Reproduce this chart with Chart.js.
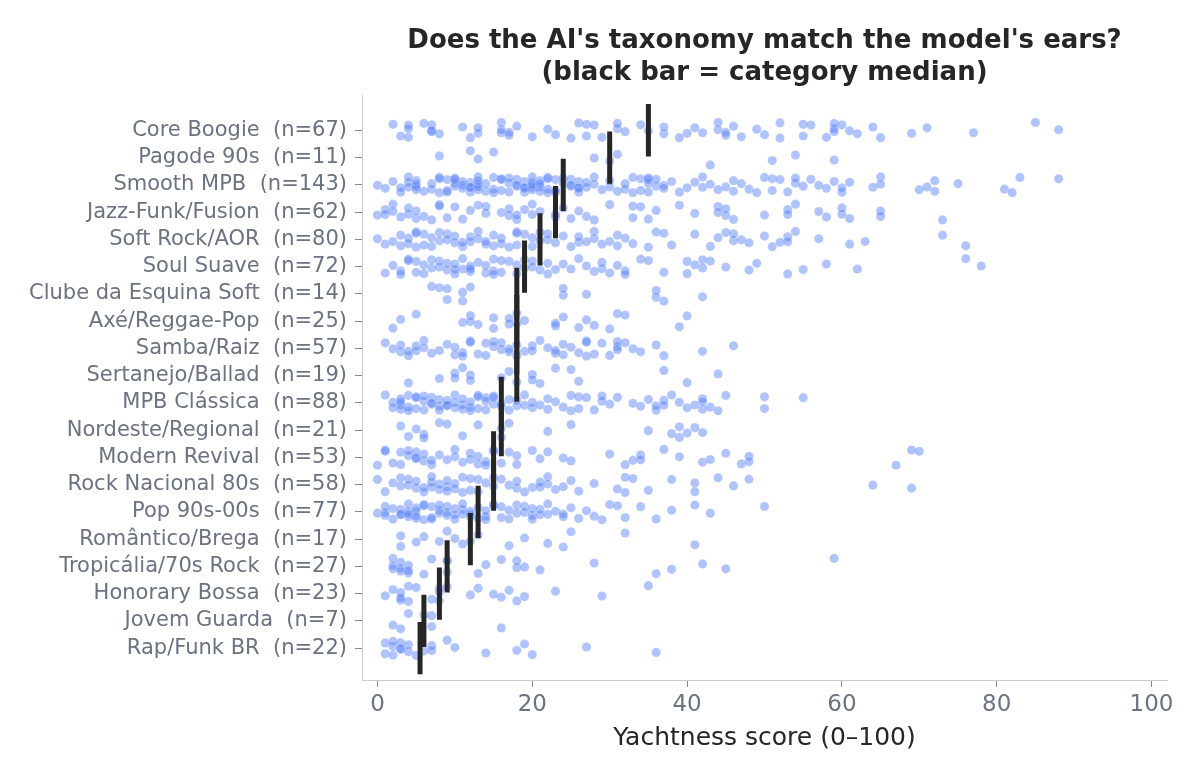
<!DOCTYPE html>
<html>
<head>
<meta charset="utf-8">
<script src="https://cdn.jsdelivr.net/npm/chart.js@4.4.1/dist/chart.umd.min.js"></script>
<style>
  html, body { margin: 0; padding: 0; background: #fff; }
  canvas { display: block; }
</style>
</head>
<body>
<canvas id="stripChart" width="1200" height="780"></canvas>
<script>
// categories, top to bottom
const categories = [
  'Core Boogie', 'Pagode 90s', 'Smooth MPB', 'Jazz-Funk/Fusion', 'Soft Rock/AOR',
  'Soul Suave', 'Clube da Esquina Soft', 'Axé/Reggae-Pop', 'Samba/Raiz', 'Sertanejo/Ballad',
  'MPB Clássica', 'Nordeste/Regional', 'Modern Revival', 'Rock Nacional 80s', 'Pop 90s-00s',
  'Romântico/Brega', 'Tropicália/70s Rock', 'Honorary Bossa', 'Jovem Guarda', 'Rap/Funk BR'
];

// scores per category (0-100)
const coreBoogie = [2,3,4,4,4,6,7,7,7,8,11,12,13,13,16,16,16,17,17,18,20,22,23,25,26,27,27,28,29,31,31,32,34,35,37,37,39,40,41,42,44,44,45,45,46,47,49,50,52,52,55,55,56,58,59,59,59,60,61,62,64,65,69,71,77,85,88];
const pagode90s = [8,12,13,15,28,30,31,43,51,54,59];
const smoothMpb = [0,1,2,3,3,4,4,4,5,5,5,5,6,7,7,8,8,8,9,9,9,10,10,10,10,11,11,11,12,12,12,12,13,13,13,13,13,14,14,15,15,15,16,16,16,17,17,17,18,18,18,19,19,19,19,20,20,20,20,20,21,21,21,21,22,22,22,22,23,23,23,
  24,24,25,25,25,26,26,26,26,27,27,28,28,29,30,30,31,32,32,33,33,34,34,35,35,35,35,36,36,37,37,38,39,40,41,42,42,43,44,45,46,46,47,48,49,50,51,51,52,53,54,54,55,56,57,58,59,60,60,61,64,65,65,70,71,72,72,75,81,82,83,88];
const jazzFunk = [0,1,1,2,2,3,4,4,5,5,6,7,8,8,9,10,11,12,13,14,14,16,17,17,18,18,19,20,20,21,23,23,24,25,26,27,28,30,33,33,34,35,36,39,41,44,44,45,45,46,50,53,53,54,57,58,60,60,61,65,65,73];
const softRock = [0,1,2,3,3,4,4,5,5,5,6,6,7,7,8,8,9,9,10,10,11,11,12,12,13,13,14,14,15,15,16,16,17,18,18,18,19,20,20,21,21,22,22,23,24,25,26,26,27,28,28,29,30,31,31,32,33,35,36,37,38,41,43,44,45,46,46,47,48,50,51,52,53,53,54,57,61,63,73,76];
const soulSuave = [1,2,3,3,4,4,5,5,6,6,7,7,8,8,9,9,10,10,10,11,11,12,12,12,13,14,14,15,15,15,16,16,17,18,18,19,19,20,20,21,22,22,23,24,25,26,27,28,29,29,30,31,32,32,34,35,37,40,40,41,42,42,43,45,48,49,53,55,58,62,76,78];
const clubeEsquina = [7,8,9,9,11,11,12,24,24,27,36,36,37,42];
const axeReggae = [2,3,5,11,12,12,13,15,15,17,17,18,18,19,23,23,24,26,27,28,30,31,32,39,40];
const sambaRaiz = [1,2,3,3,4,4,5,5,6,6,7,8,9,10,10,11,11,12,12,13,14,14,15,15,16,16,17,17,18,18,19,20,20,21,22,23,23,24,24,25,26,27,27,27,28,29,30,31,31,31,32,33,34,36,37,42,46];
const sertanejo = [4,8,10,10,11,12,12,16,17,18,20,20,21,23,25,26,37,40,44];
const mpbClassica = [1,2,2,3,3,3,3,4,4,4,5,5,5,6,6,6,7,7,7,8,8,8,9,9,9,10,10,10,11,11,11,12,12,12,13,13,13,14,14,14,15,15,15,16,16,
  17,17,18,18,19,19,20,20,21,22,22,23,24,25,25,26,26,27,28,29,29,30,31,33,34,35,36,36,37,37,38,39,40,41,42,42,42,43,44,45,50,50,55];
const nordeste = [3,4,5,6,6,8,9,11,13,16,16,17,22,25,35,38,39,39,40,41,42];
const modernRevival = [0,1,1,2,3,3,4,4,5,5,5,6,6,7,7,8,9,10,10,11,12,12,13,13,14,14,15,15,16,17,18,18,20,21,22,24,25,30,32,33,34,34,37,39,42,43,45,47,48,48,67,69,70];
const rockNacional = [0,1,2,3,3,4,4,5,5,6,6,7,7,7,8,8,9,9,9,10,10,11,11,12,12,13,13,14,15,15,16,17,18,18,19,20,21,21,22,22,23,24,25,26,28,31,32,32,33,35,38,41,41,44,46,48,64,69];
const pop9000 = [0,1,1,1,2,2,3,3,3,4,4,4,4,5,5,5,5,6,6,6,7,7,7,8,8,8,9,9,9,10,10,10,11,11,11,12,12,12,13,13,
  14,14,14,15,15,16,16,17,17,18,18,19,19,20,20,20,21,21,22,22,23,24,24,25,26,27,28,29,30,31,32,34,36,38,41,43,50];
const romantico = [3,3,5,6,8,9,10,11,12,13,17,19,22,24,25,32,41];
const tropicalia = [2,2,2,3,3,3,4,4,4,6,7,9,9,9,13,14,16,18,18,19,21,28,36,38,42,45,59];
const honoraryBossa = [1,2,3,3,3,4,4,5,7,8,8,8,9,12,13,15,16,17,18,19,23,29,35];
const jovemGuarda = [2,3,4,6,7,7,16];
const rapFunk = [1,1,2,2,2,3,3,3,4,4,5,6,7,7,9,10,14,18,19,20,27,36];

// category medians (black bars)
const medians = [35, 30, 24, 23, 21, 19, 18, 18, 18, 18, 16, 16, 15, 15, 13, 12, 9, 8, 6, 5.5];

const xTicks = [0, 20, 40, 60, 80, 100];

const scoreLists = [
  coreBoogie, pagode90s, smoothMpb, jazzFunk, softRock, soulSuave, clubeEsquina, axeReggae,
  sambaRaiz, sertanejo, mpbClassica, nordeste, modernRevival, rockNacional, pop9000,
  romantico, tropicalia, honoraryBossa, jovemGuarda, rapFunk
];

const yLabels = categories.map((c, i) => `${c}  (n=${scoreLists[i].length})`);

// fixed vertical spread so the dots don't sit on one line
const spread = [-0.22, 0.08, 0.27, -0.06, 0.16, -0.29, 0.02, 0.21, -0.15, 0.11, -0.25, 0.29, -0.02, 0.13, -0.19, 0.24, -0.09, 0.05, -0.27, 0.18, -0.12, 0.26, -0.04, 0.09, -0.2];

const points = [];
scoreLists.forEach((list, i) => {
  list.forEach((v, j) => {
    points.push({ x: v, y: i + spread[(j * 7 + i * 3) % spread.length] });
  });
});

const BAR_HALF = 0.96;
const medianSets = medians.map((m, i) => ({
  type: 'line',
  data: [{ x: m, y: i - BAR_HALF }, { x: m, y: i + BAR_HALF }],
  borderColor: '#262626',
  borderWidth: 5,
  borderCapStyle: 'butt',
  pointRadius: 0,
  showLine: true,
  order: 0
}));

Chart.defaults.font.family = "'DejaVu Sans', sans-serif";

new Chart(document.getElementById('stripChart'), {
  type: 'scatter',
  data: {
    datasets: [
      {
        data: points,
        backgroundColor: 'rgba(79, 124, 247, 0.45)',
        borderColor: 'rgba(255, 255, 255, 0.35)',
        borderWidth: 0.5,
        pointRadius: 4.6,
        pointHoverRadius: 4.6,
        order: 1
      },
      ...medianSets
    ]
  },
  options: {
    responsive: false,
    animation: false,
    devicePixelRatio: 1,
    layout: { padding: { left: 0, right: 33, top: 0, bottom: 0 } },
    plugins: {
      legend: { display: false },
      tooltip: { enabled: false },
      title: {
        display: true,
        fullSize: false,
        text: ["Does the AI's taxonomy match the model's ears?", '(black bar = category median)'],
        color: '#262626',
        font: { size: 26, weight: 'bold', lineHeight: 1.2 },
        padding: { top: 26, bottom: 7 }
      }
    },
    scales: {
      x: {
        type: 'linear',
        min: -2,
        max: 102,
        afterBuildTicks: (scale) => { scale.ticks = xTicks.map(v => ({ value: v })); },
        afterFit: (scale) => { scale.height = 100; },
        grid: { drawOnChartArea: false, drawTicks: true, tickLength: 7, color: '#8a8a8a' },
        border: { display: true, color: '#cccccc', width: 1 },
        ticks: { color: '#6b7280', font: { size: 23 }, padding: 4 },
        title: {
          display: true,
          text: 'Yachtness score (0–100)',
          color: '#262626',
          font: { size: 25, lineHeight: 1.2 },
          padding: { top: 0, bottom: 27 }
        }
      },
      y: {
        type: 'linear',
        reverse: true,
        min: -1.28,
        max: 20.17,
        afterBuildTicks: (scale) => { scale.ticks = categories.map((c, i) => ({ value: i })); },
        afterFit: (scale) => { scale.width = 362; },
        grid: { drawOnChartArea: false, drawTicks: true, tickLength: 7, color: '#8a8a8a' },
        border: { display: true, color: '#cccccc', width: 1 },
        ticks: {
          autoSkip: false,
          color: '#6b7280',
          font: { size: 21 },
          padding: 8,
          callback: (v) => yLabels[v]
        }
      }
    }
  }
});
</script>
</body>
</html>
